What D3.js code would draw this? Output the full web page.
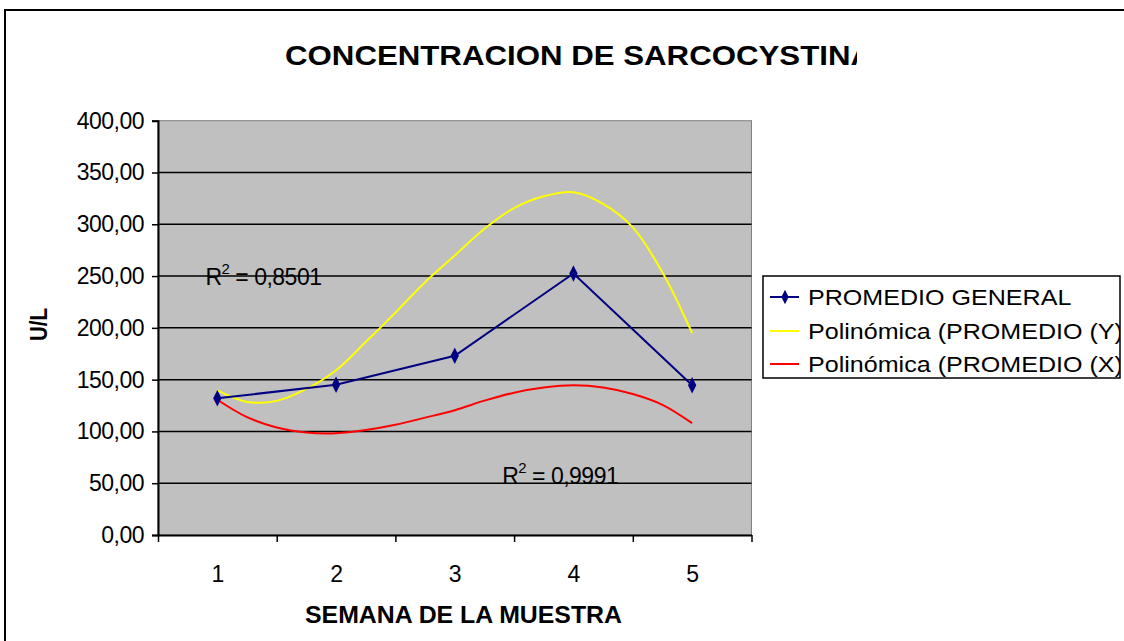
<!DOCTYPE html>
<html>
<head>
    <title>sarcocystina</title>
    <script src="https://d3js.org/d3.v7.min.js"></script>
    <style>
        body { margin: 0; background: #fff; overflow: hidden; }
        svg { display: block; }
        text { font-family: "Liberation Sans", Arial, sans-serif; }
    </style>
</head>
<body>
    <svg width="1124" height="641" id="mainsvg"></svg>
    <script>
        // data
        const weeks = [1, 2, 3, 4, 5];
        const promedioGeneral = [132, 145, 173, 252.5, 144.5];

        // trendlines, sampled every quarter week
        const trendWeeks = [1, 1.25, 1.5, 1.75, 2, 2.25, 2.5, 2.75, 3, 3.25, 3.5, 3.75, 4, 4.25, 4.5, 4.75, 5];
        const trendY = [139.6, 128.5, 129.5, 141, 159, 186.3, 214.7, 244.1, 269.8, 295.6, 315.7, 327, 331, 319.8, 297, 253.5, 195];
        const trendX = [130.6, 113.8, 103.8, 99, 98.3, 101.4, 106.5, 113.3, 120.5, 129.7, 137.4, 142.3, 144.5, 142.4, 136.1, 125.7, 108];

        const yTicks = [0, 50, 100, 150, 200, 250, 300, 350, 400];
        const legendLabels = ['PROMEDIO GENERAL', 'Polinómica (PROMEDIO (Y))', 'Polinómica (PROMEDIO (X))'];
        const r2Labels = [{ text: '0,8501', week: 0.9, value: 241 }, { text: '0,9991', week: 3.4, value: 49 }];

        const svg = d3.select('#mainsvg');
        const plot = { left: 158, right: 751.5, top: 120.7, bottom: 535 };

        // outer chart border (runs off the right and bottom edges)
        svg.append('rect').attr('x', 5).attr('y', 10).attr('width', 1140).attr('height', 650)
            .attr('fill', '#fff').attr('stroke', '#000').attr('stroke-width', 2);

        const xScale = d3.scaleLinear().domain([0.5, 5.5]).range([plot.left, plot.right]);
        const yScale = d3.scaleLinear().domain([0, 400]).range([plot.bottom, plot.top]);

        // plot area
        svg.append('rect')
            .attr('x', plot.left).attr('y', plot.top)
            .attr('width', plot.right - plot.left).attr('height', plot.bottom - plot.top)
            .attr('fill', '#c0c0c0').attr('stroke', '#808080').attr('stroke-width', 1);

        svg.append('g').selectAll('line').data(yTicks.filter(d => d > 0 && d < 400)).join('line')
            .attr('x1', plot.left).attr('x2', plot.right)
            .attr('y1', d => yScale(d)).attr('y2', d => yScale(d))
            .attr('stroke', '#000').attr('stroke-width', 1.5);

        // axes
        const fmt = d => d3.format('.2f')(d).replace('.', ',');
        const yAxis = svg.append('g').attr('transform', `translate(${plot.left},0)`)
            .call(d3.axisLeft(yScale).tickValues(yTicks).tickFormat(fmt).tickSize(6).tickPadding(8));
        yAxis.select('.domain').attr('stroke-width', 2);
        yAxis.selectAll('.tick line').attr('stroke-width', 1.5);
        yAxis.selectAll('text').attr('font-size', 23).attr('fill', '#000')
            .style('font-family', '"Liberation Sans", Arial, sans-serif').attr('letter-spacing', -0.5);

        const xTickAxis = svg.append('g').attr('transform', `translate(0,${plot.bottom})`)
            .call(d3.axisBottom(xScale).tickValues([0.5, 1.5, 2.5, 3.5, 4.5, 5.5]).tickFormat('').tickSize(7).tickSizeOuter(0));
        xTickAxis.select('.domain').attr('stroke-width', 2);
        xTickAxis.selectAll('.tick line').attr('stroke-width', 1.5);

        const xLabelAxis = svg.append('g').attr('transform', `translate(0,${plot.bottom})`)
            .call(d3.axisBottom(xScale).tickValues(weeks).tickFormat(d3.format('d')).tickSize(0).tickPadding(31));
        xLabelAxis.select('.domain').remove();
        xLabelAxis.selectAll('text').attr('font-size', 23).attr('fill', '#000')
            .style('font-family', '"Liberation Sans", Arial, sans-serif');

        // trendlines
        const curve = d3.line().x(d => xScale(d[0])).y(d => yScale(d[1])).curve(d3.curveCatmullRom);
        svg.append('path').datum(trendWeeks.map((w, i) => [w, trendY[i]]))
            .attr('d', curve).attr('fill', 'none').attr('stroke', '#ffff00').attr('stroke-width', 2);
        svg.append('path').datum(trendWeeks.map((w, i) => [w, trendX[i]]))
            .attr('d', curve).attr('fill', 'none').attr('stroke', '#ff0000').attr('stroke-width', 2);

        // main series
        const line = d3.line().x(d => xScale(d[0])).y(d => yScale(d[1]));
        const pts = weeks.map((w, i) => [w, promedioGeneral[i]]);
        svg.append('path').datum(pts).attr('d', line)
            .attr('fill', 'none').attr('stroke', '#000080').attr('stroke-width', 2);
        svg.append('g').selectAll('path').data(pts).join('path')
            .attr('transform', d => `translate(${xScale(d[0])},${yScale(d[1])}) scale(1,1.15)`)
            .attr('d', d3.symbol(d3.symbolDiamond, 60))
            .attr('fill', '#000080');

        // R² labels
        r2Labels.forEach(r => {
            const t = svg.append('text')
                .attr('x', xScale(r.week)).attr('y', yScale(r.value))
                .attr('font-size', 23).attr('fill', '#000').attr('letter-spacing', -0.5);
            t.append('tspan').text('R');
            t.append('tspan').text('2').attr('font-size', 15).attr('dy', -11);
            t.append('tspan').text(' = ' + r.text).attr('dy', 11);
        });

        // stretch helper: the original text is a bit wider than the font
        function stretch(sel, k) {
            sel.each(function () {
                const w = this.getComputedTextLength();
                d3.select(this).attr('textLength', w * k).attr('lengthAdjust', 'spacingAndGlyphs');
            });
        }

        // title (last letter is cut by the chart)
        svg.append('clipPath').attr('id', 'titleclip')
            .append('rect').attr('x', 0).attr('y', 0).attr('width', 857).attr('height', 100);
        svg.append('text')
            .attr('clip-path', 'url(#titleclip)')
            .attr('x', 285).attr('y', 65)
            .attr('font-size', 28).attr('font-weight', 'bold').attr('fill', '#000')
            .text('CONCENTRACION DE SARCOCYSTINA')
            .attr('textLength', 588).attr('lengthAdjust', 'spacingAndGlyphs');

        // axis titles
        svg.append('text')
            .attr('x', 305).attr('y', 623)
            .attr('font-size', 24).attr('font-weight', 'bold').attr('fill', '#000')
            .text('SEMANA DE LA MUESTRA')
            .attr('textLength', 317).attr('lengthAdjust', 'spacingAndGlyphs');

        svg.append('text')
            .attr('transform', 'translate(47,324.5) rotate(-90)')
            .attr('text-anchor', 'middle')
            .attr('font-size', 24).attr('font-weight', 'bold').attr('fill', '#000')
            .text('U/L')
            .attr('textLength', 33).attr('lengthAdjust', 'spacingAndGlyphs');

        // legend
        const lg = { x: 763, y: 276, w: 357, h: 102 };
        svg.append('clipPath').attr('id', 'legclip')
            .append('rect').attr('x', lg.x).attr('y', lg.y).attr('width', lg.w).attr('height', lg.h);
        svg.append('rect').attr('x', lg.x).attr('y', lg.y).attr('width', lg.w).attr('height', lg.h)
            .attr('fill', '#fff').attr('stroke', '#000').attr('stroke-width', 1.5);

        const legColors = ['#000080', '#ffff00', '#ff0000'];
        const rowY = [297, 331, 364];
        const legend = svg.append('g').attr('clip-path', 'url(#legclip)');
        legendLabels.forEach((lab, i) => {
            legend.append('line')
                .attr('x1', 770).attr('x2', 799).attr('y1', rowY[i]).attr('y2', rowY[i])
                .attr('stroke', legColors[i]).attr('stroke-width', 2);
            if (i === 0) {
                legend.append('path')
                    .attr('transform', `translate(785,${rowY[i]}) scale(1,1.15)`)
                    .attr('d', d3.symbol(d3.symbolDiamond, 45))
                    .attr('fill', legColors[i]);
            }
            legend.append('text')
                .attr('x', 808).attr('y', rowY[i] + 8)
                .attr('font-size', 22).attr('fill', '#000')
                .text(lab)
                .call(stretch, 1.14);
        });
    </script>
</body>
</html>
